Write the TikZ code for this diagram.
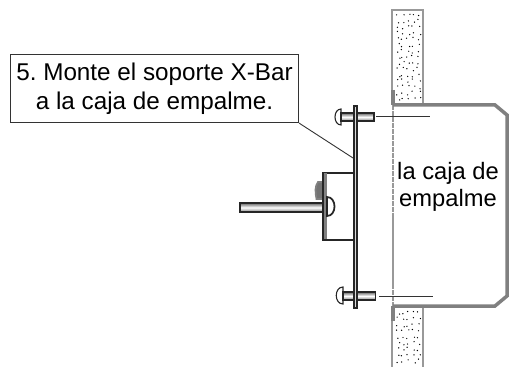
\documentclass[tikz,border=0pt]{standalone}
\usepackage{fontspec}
\setmainfont{Liberation Sans}
\frenchspacing
\begin{document}
\begin{tikzpicture}[
  x=0.02cm,
  y=-0.02cm,
  inkline/.style={draw=black!85, line width=0.035cm},
  thinline/.style={draw=black!80, line width=0.018cm},
  wallline/.style={draw=black!40, line width=0.025cm},
  boxline/.style={draw=black!50, line width=0.07cm},
  metal/.style={inkline, top color=black!60, bottom color=black!50, middle color=white},
  note/.style={rectangle, draw=black!80, line width=0.025cm, align=center, minimum width=5.76cm, minimum height=1.36cm, inner sep=0pt, font=\fontsize{13.8pt}{16.5pt}\selectfont},
  label/.style={align=center, inner sep=0pt, font=\fontsize{13.5pt}{15.5pt}\selectfont}
]
\useasboundingbox (0,0) rectangle (509,367);

% wall
\draw[wallline] (392,104) -- (392,10) -- (423,10) -- (423,104);
\draw[wallline] (392,307) -- (392,367) (423,307) -- (423,367);
\pgfmathsetseed{7}
\foreach \gx in {0,...,4}
  \foreach \gy in {0,...,14}
    \fill[black] ({396+5.2*\gx+4*rnd},{13+6*\gy+4*rnd}) circle (0.7);
\foreach \gx in {0,...,4}
  \foreach \gy in {0,...,8}
    \fill[black] ({396+5.2*\gx+4*rnd},{311+6*\gy+4*rnd}) circle (0.7);

% junction box
\draw[draw=black!40, line width=0.03cm, dash pattern=on 3pt off 0.4pt] (393,105) -- (393,306);
\draw[boxline] (393,105) -- (495,105) -- (507,115) -- (507,296) -- (495,306) -- (393,306);
\draw[boxline] (393,90) -- (393,105);
\draw[boxline] (393,306) -- (393,321);
\node[label] (boxlabel) at (448,187) {la caja de\\empalme};

% bracket and rod
\draw[inkline, draw=black!50, fill=black!55] (316.5,199) .. controls (315,192) and (315,186) .. (318,182) -- (323,182) -- (323,199) -- cycle;
\draw[inkline, fill=white] (323,173) rectangle (354,240);
\fill[black!50] (323.5,173.5) rectangle (327,239.5);
\draw[inkline, fill=white] (327,197) .. controls (337,197) and (337,216) .. (327,216) -- cycle;
\draw[metal] (240,203) rectangle (323,212);

% screws
\draw[inkline, line width=0.022cm, fill=white] (341,109) .. controls (333,109) and (333,125) .. (341,125) -- cycle;
\draw[metal] (341,113) rectangle (374,121);
\draw[inkline, line width=0.022cm, fill=white] (343,287) .. controls (334,287) and (334,304) .. (343,304) -- cycle;
\draw[metal] (343,292) rectangle (375.5,300);

% plate
\draw[inkline, line width=0.045cm, fill=black!15] (354,106) rectangle (357,308);

% leader lines
\coordinate (topstart) at (376,116);
\coordinate (topend) at (430,116);
\coordinate (bottomstart) at (379,296);
\coordinate (bottomend) at (433,296);
\coordinate (platepoint) at (353,158);
\draw[thinline] (topstart) -- (topend);
\draw[thinline] (bottomstart) -- (bottomend);

% note
\node[note] (step) at (154.5,88.5) {5. Monte el soporte X-Bar\\a la caja de empalme.};
\draw[thinline] (step.south east) -- (platepoint);
\end{tikzpicture}
\end{document}
